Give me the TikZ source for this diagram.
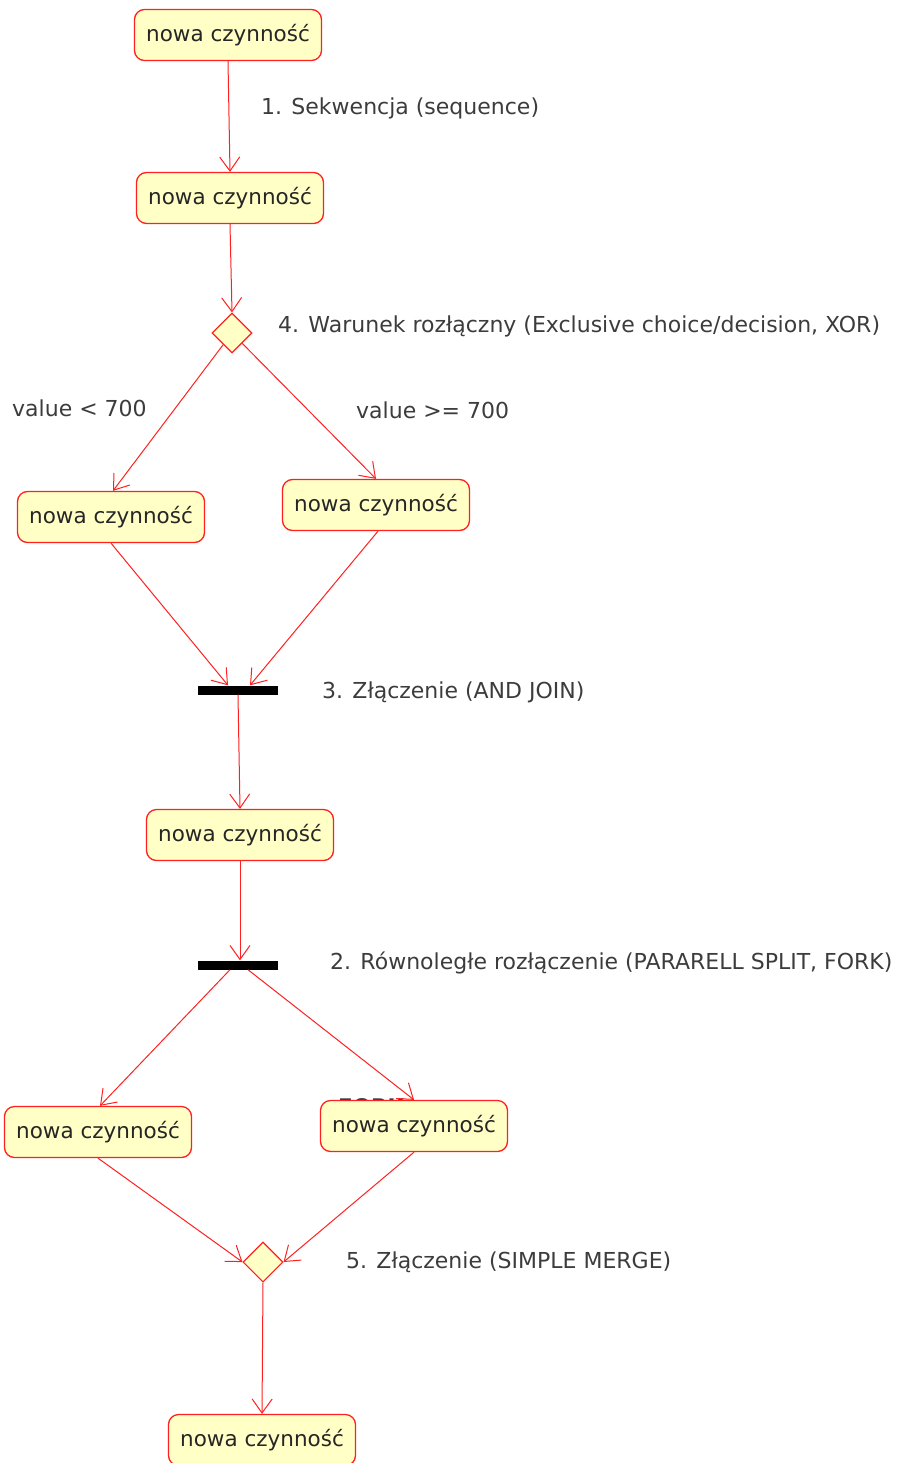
\documentclass[tikz,border=0pt]{standalone}
\usepackage{fontspec}
\setmainfont{DejaVu Sans}
\usetikzlibrary{arrows.meta,shapes.geometric}
\definecolor{boxfill}{HTML}{FFFFC6}
\definecolor{edge}{HTML}{FF2020}
\definecolor{labtext}{HTML}{3C3C3C}
\tikzset{
  act/.style={draw=edge, line width=1.3pt, fill=boxfill, rounded corners=10pt,
    minimum width=187pt, minimum height=51pt, inner sep=0pt, font=\fontsize{21.5}{24}\selectfont, text=black!85},
  dec/.style={draw=edge, line width=1.1pt, fill=boxfill, diamond, minimum width=40pt, minimum height=40pt, inner sep=0pt},
  bar/.style={fill=black, minimum width=80pt, minimum height=9pt, inner sep=0pt},
  flow/.style={draw=edge, line width=1pt, -{Straight Barb[length=14pt,width=20pt,line width=1pt]}},
  lab/.style={anchor=west, inner sep=0pt, text=labtext, font=\fontsize{22}{25}\selectfont},
}
\begin{document}
\begin{tikzpicture}[x=1pt,y=-1pt]
\useasboundingbox (0,0) rectangle (923,1463);
\node[act] (b1) at (228,35) {nowa czynność};
\node[act] (b2) at (230,198) {nowa czynność};
\node[dec] (d1) at (232,333) {};
\node[act] (b3) at (111,517) {nowa czynność};
\node[act] (b4) at (376,505) {nowa czynność};
\node[bar] (join) at (238,690) {};
\node[act] (b5) at (240,835) {nowa czynność};
\node[bar] (fork) at (238,965) {};
\node[anchor=north west, inner sep=0pt, text=labtext, font=\fontsize{21.5}{24}\selectfont\bfseries] (forktxt) at (338,1098) {FORK};
\node[act] (b6) at (98,1132) {nowa czynność};
\node[act] (b7) at (414,1126) {nowa czynność};
\node[dec] (d2) at (263,1262) {};
\node[act] (b8) at (262,1440) {nowa czynność};

\node[lab] (l1) at (261,108) {1. Sekwencja (sequence)};
\node[lab] (l4) at (278,326) {4. Warunek rozłączny (Exclusive choice/decision, XOR)};
\node[lab] (lv1) at (12,408) {value < 700};
\node[lab] (lv2) at (356,410) {value >= 700};
\node[lab] (l3) at (322,692) {3. Złączenie (AND JOIN)};
\node[lab] (l2) at (330,963) {2. Równoległe rozłączenie (PARARELL SPLIT, FORK)};
\node[lab] (l5) at (346,1262) {5. Złączenie (SIMPLE MERGE)};

\draw[flow] (b1.south) -- (b2.north);
\draw[flow] (b2.south) -- (d1.north);
\draw[flow] (d1) -- ([xshift=2pt]b3.north);
\draw[flow] (d1) -- (b4.north);
\draw[flow] (b3.south) -- ([xshift=-10pt]join.north);
\draw[flow] ([xshift=2pt]b4.south) -- ([xshift=12pt]join.north);
\draw[flow] (join.south) -- (b5.north);
\draw[flow] (b5.south) -- ([xshift=2pt]fork.north);
\draw[flow] ([xshift=-8pt]fork.south) -- ([xshift=2pt]b6.north);
\draw[flow] ([xshift=10pt]fork.south) -- (b7.north);
\draw[flow] (b6.south) -- (d2.west);
\draw[flow] (b7.south) -- (d2.east);
\draw[flow] (d2.south) -- (b8.north);
\end{tikzpicture}
\end{document}
